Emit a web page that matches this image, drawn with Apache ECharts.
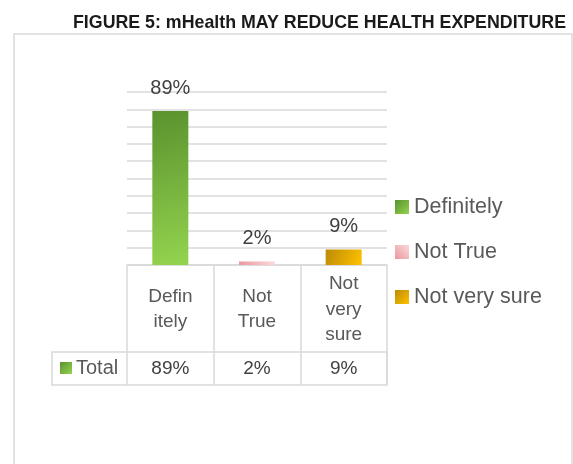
<!DOCTYPE html>
<html>
<head>
<meta charset="utf-8">
<script src="https://cdn.jsdelivr.net/npm/echarts@6/dist/echarts.min.js"></script>
<style>
  html, body { margin: 0; padding: 0; background: #ffffff; }
  #chart { width: 573px; height: 464px; }
</style>
</head>
<body>
<div id="chart"></div>
<script>
// Survey answers and their shares (%)
const categories = ['Definitely', 'Not True', 'Not very sure'];
const headerLabels = ['Defin\nitely', 'Not\nTrue', 'Not\nvery\nsure'];
const values = [89, 2, 9];
const rowName = 'Total';
const titleText = 'FIGURE 5: mHealth MAY REDUCE HEALTH EXPENDITURE';

const FONT = '"Liberation Sans", Arial, sans-serif';
const GRID_COLOR = '#d9d9d9';

function grad(x, y, x2, y2, c0, c1) {
  return new echarts.graphic.LinearGradient(x, y, x2, y2, [
    { offset: 0, color: c0 },
    { offset: 1, color: c1 }
  ]);
}

const fills = [
  grad(0, 0, 1, 1, '#5a922e', '#93d44f'),
  grad(1, 0, 0, 1, '#fbdada', '#ea989e'),
  grad(0, 0, 1, 1, '#bd8a06', '#ffc200')
];

// Layout of the plot and the data table beneath it
const plotLeft = 127, plotRight = 387, plotTop = 92, plotBottom = 265;
const headerBottom = 352, tableBottom = 385, tableLeft = 52;

const series = categories.map((name, i) => ({
  name: name,
  type: 'bar',
  stack: 'answers',
  barWidth: 36,
  xAxisIndex: 0,
  yAxisIndex: 0,
  itemStyle: { color: fills[i] },
  label: {
    show: true,
    position: 'top',
    distance: 13,
    formatter: '{c}%',
    fontFamily: FONT,
    fontSize: 20,
    color: '#404040'
  },
  data: categories.map((c, j) => (j === i ? values[i] : '-'))
}));

const chart = echarts.init(document.getElementById('chart'), null, { renderer: 'canvas' });

chart.setOption({
  animation: false,
  backgroundColor: '#ffffff',
  title: {
    text: titleText,
    right: 2,
    top: 9,
    textStyle: { fontFamily: FONT, fontSize: 17.8, fontWeight: 'bold', color: '#1a1a1a' }
  },
  legend: {
    orient: 'vertical',
    left: 395,
    top: 196,
    padding: 0,
    itemWidth: 14,
    itemHeight: 14,
    itemGap: 23,
    icon: 'rect',
    data: categories,
    textStyle: { fontFamily: FONT, fontSize: 21.5, color: '#595959' }
  },
  grid: [
    {
      left: plotLeft,
      right: 573 - plotRight,
      top: plotTop,
      bottom: 464 - plotBottom
    },
    {
      show: true,
      left: tableLeft,
      right: 573 - plotRight,
      top: headerBottom,
      bottom: 464 - tableBottom,
      borderColor: GRID_COLOR,
      borderWidth: 1.5,
      backgroundColor: 'transparent'
    }
  ],
  xAxis: [
    {
      type: 'category',
      gridIndex: 0,
      data: categories,
      axisLine: { show: true, lineStyle: { color: GRID_COLOR, width: 1.5 } },
      axisTick: { show: true, alignWithLabel: false, length: tableBottom - plotBottom, lineStyle: { color: GRID_COLOR, width: 1.5 } },
      axisLabel: {
        formatter: (v, i) => headerLabels[i],
        margin: (headerBottom - plotBottom) / 2 + 1,
        verticalAlign: 'middle',
        fontFamily: FONT,
        fontSize: 19,
        lineHeight: 25.5,
        color: '#595959'
      }
    },
    {
      type: 'category',
      gridIndex: 0,
      position: 'bottom',
      data: categories,
      axisLine: { show: false },
      axisTick: { show: false },
      axisLabel: {
        formatter: (v, i) => values[i] + '%',
        margin: (headerBottom + tableBottom) / 2 - plotBottom,
        verticalAlign: 'middle',
        fontFamily: FONT,
        fontSize: 19,
        color: '#404040'
      }
    },
    { type: 'value', gridIndex: 1, show: false }
  ],
  yAxis: [
    {
      type: 'value',
      gridIndex: 0,
      min: 0,
      max: 100,
      interval: 10,
      axisLabel: { show: false },
      axisLine: { show: false },
      axisTick: { show: false },
      splitLine: { lineStyle: { color: GRID_COLOR, width: 1.5 } }
    },
    { type: 'value', gridIndex: 1, show: false }
  ],
  graphic: [
    {
      type: 'rect',
      silent: true,
      shape: { x: 14, y: 34, width: 558, height: 440 },
      style: { fill: 'none', stroke: GRID_COLOR, lineWidth: 1.5 }
    },
    {
      type: 'rect',
      silent: true,
      shape: { x: 60, y: 362, width: 12, height: 12 },
      style: { fill: grad(0, 0, 1, 1, '#5a922e', '#93d44f') }
    },
    {
      type: 'text',
      silent: true,
      x: 76,
      y: (headerBottom + tableBottom) / 2,
      style: {
        text: rowName,
        fontFamily: FONT,
        fontSize: 20,
        fill: '#595959',
        verticalAlign: 'middle'
      }
    }
  ],
  series: series
});
</script>
</body>
</html>
